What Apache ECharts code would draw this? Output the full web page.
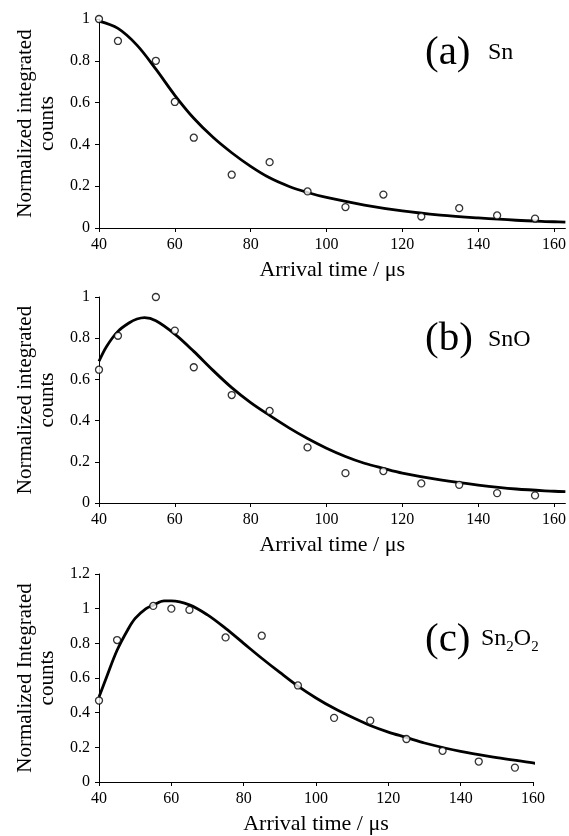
<!DOCTYPE html>
<html>
<head>
<meta charset="utf-8">
<title>Arrival time distributions</title>
<script src="https://cdn.jsdelivr.net/npm/echarts@6/dist/echarts.min.js"></script>
<style>
  html, body { margin: 0; padding: 0; background: #fff; }
  #chart { width: 569px; height: 836px; }
</style>
</head>
<body>
<div id="chart"></div>
<script>
// measured arrival times (us)
const pointX = [40, 45, 55, 60, 65, 75, 85, 95, 105, 115, 125, 135, 145, 155]

// (a) Sn
const snPoints = [1.0, 0.895, 0.80, 0.603, 0.432, 0.255, 0.315, 0.175, 0.10, 0.16, 0.055, 0.095, 0.06, 0.045]
const snFitX = [40, 45, 50, 55, 60, 65, 70, 75, 80, 85, 90, 95, 100, 110, 120, 130, 140, 150, 160, 163]
const snFit = [0.99, 0.955, 0.875, 0.76, 0.635, 0.525, 0.435, 0.36, 0.295, 0.24, 0.2, 0.17, 0.146, 0.11, 0.082, 0.062, 0.048, 0.037, 0.03, 0.028]

// (b) SnO
const snoPoints = [0.647, 0.812, 1.0, 0.837, 0.659, 0.524, 0.447, 0.27, 0.145, 0.155, 0.095, 0.088, 0.048, 0.037]
const snoFitX = [40, 42, 45, 48, 50, 52, 55, 60, 65, 70, 75, 80, 85, 90, 95, 100, 105, 110, 115, 120, 130, 140, 150, 160, 163]
const snoFit = [0.688, 0.76, 0.833, 0.875, 0.893, 0.9, 0.885, 0.82, 0.736, 0.645, 0.56, 0.487, 0.425, 0.366, 0.313, 0.266, 0.226, 0.193, 0.168, 0.145, 0.112, 0.087, 0.068, 0.057, 0.055]

// (c) Sn2O2
const sn2o2Points = [0.47, 0.819, 1.016, 1.0, 0.993, 0.834, 0.844, 0.557, 0.37, 0.354, 0.248, 0.18, 0.118, 0.083]
const sn2o2FitX = [40, 42, 45, 48, 50, 53, 55, 58, 60, 65, 70, 75, 80, 85, 90, 95, 100, 105, 110, 115, 120, 125, 130, 140, 150, 160, 163]
const sn2o2Fit = [0.49, 0.6, 0.76, 0.88, 0.944, 1.0, 1.02, 1.045, 1.045, 1.022, 0.964, 0.886, 0.8, 0.714, 0.632, 0.553, 0.485, 0.425, 0.373, 0.326, 0.288, 0.257, 0.225, 0.176, 0.141, 0.11, 0.099]

const xTicks = [40, 60, 80, 100, 120, 140, 160]

const serif = '"Liberation Serif", "DejaVu Serif", serif'

function zip(xs, ys) {
  return xs.map((x, i) => [x, ys[i]])
}

function xAxisFor(gridIndex, max) {
  return {
    type: 'value', gridIndex, min: 40, max, interval: 20,
    name: 'Arrival time / \u03bcs', nameLocation: 'middle', nameGap: 31,
    nameTextStyle: { fontFamily: serif, fontSize: 22, color: '#000' },
    axisLine: { lineStyle: { color: '#000', width: 1 } },
    axisTick: { show: true, length: 4, lineStyle: { color: '#000' }, customValues: xTicks },
    axisLabel: { fontFamily: serif, fontSize: 16, color: '#000', margin: 9, customValues: xTicks },
    splitLine: { show: false }
  }
}

function yAxisFor(gridIndex, max, title) {
  return {
    type: 'value', gridIndex, min: 0, max, interval: 0.2,
    name: title, nameLocation: 'middle', nameGap: 41,
    nameTextStyle: { fontFamily: serif, fontSize: 21, color: '#000', lineHeight: 22 },
    axisLine: { show: true, lineStyle: { color: '#000', width: 1 } },
    axisTick: { show: true, length: 4, lineStyle: { color: '#000' } },
    axisLabel: { fontFamily: serif, fontSize: 16, color: '#000', margin: 9 },
    splitLine: { show: false }
  }
}

function pointSeries(i, ys) {
  return {
    type: 'scatter', xAxisIndex: i, yAxisIndex: i,
    data: zip(pointX, ys),
    symbol: 'circle', symbolSize: 7,
    itemStyle: { color: '#fff', borderColor: '#000', borderWidth: 1.3 },
    z: 3
  }
}

function fitSeries(i, xs, ys) {
  return {
    type: 'line', xAxisIndex: i, yAxisIndex: i,
    data: zip(xs, ys),
    smooth: 0.35, showSymbol: false, clip: false,
    lineStyle: { color: '#000', width: 2.8 },
    z: 2
  }
}

function label(x, y, text, size) {
  return {
    type: 'text', left: x, top: y,
    style: { text, fill: '#000', font: size + 'px ' + serif }
  }
}

const chart = echarts.init(document.getElementById('chart'))

chart.setOption({
  animation: false,
  backgroundColor: '#fff',
  grid: [
    { left: 99, top: 19, width: 468, height: 209 },
    { left: 99, top: 297, width: 468, height: 206 },
    { left: 99, top: 574, width: 434, height: 208 }
  ],
  xAxis: [xAxisFor(0, 163), xAxisFor(1, 163), xAxisFor(2, 160)],
  yAxis: [
    yAxisFor(0, 1, 'Normalized integrated\ncounts'),
    yAxisFor(1, 1, 'Normalized integrated\ncounts'),
    yAxisFor(2, 1.2, 'Normalized Integrated\ncounts')
  ],
  graphic: [
    label(425, 33, '(a)', 41),
    label(488, 41, 'Sn', 24),
    label(425, 319, '(b)', 41),
    label(488, 328, 'SnO', 24),
    label(425, 620, '(c)', 41),
    {
      type: 'text', left: 481, top: 627,
      style: {
        text: '{n|Sn}{s|2}{n|O}{s|2}',
        fill: '#000',
        rich: {
          n: { fontFamily: serif, fontSize: 24, verticalAlign: 'bottom' },
          s: { fontFamily: serif, fontSize: 15, verticalAlign: 'bottom', padding: [0, 0, -4, 0] }
        }
      }
    }
  ],
  series: [
    fitSeries(0, snFitX, snFit), pointSeries(0, snPoints),
    fitSeries(1, snoFitX, snoFit), pointSeries(1, snoPoints),
    fitSeries(2, sn2o2FitX, sn2o2Fit), pointSeries(2, sn2o2Points)
  ]
})
</script>
</body>
</html>
